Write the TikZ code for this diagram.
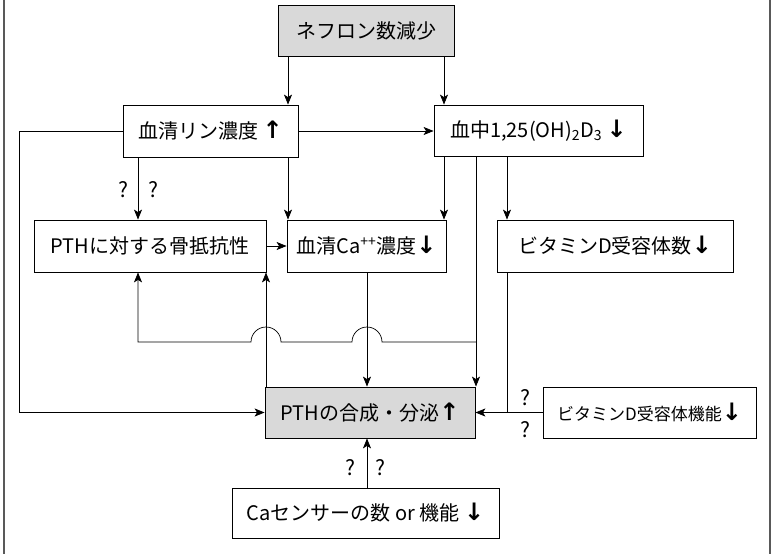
\documentclass[tikz,border=0pt]{standalone}
\usepackage{fontspec}
\setmainfont{Noto Sans CJK JP}
\newfontfamily\arwfont{DejaVu Sans}
\newcommand{\up}{{\arwfont\bfseries\fontsize{24}{24}\selectfont ↑}}
\newcommand{\dn}{{\arwfont\bfseries\fontsize{24}{24}\selectfont ↓}}
\usetikzlibrary{arrows.meta}
\begin{document}
\begin{tikzpicture}[x=1pt,y=-1pt,
  box/.style={draw, line width=0.8pt, inner sep=0pt, font=\fontsize{20}{23}\selectfont},
  shaded/.style={box, fill=gray!30},
  arr/.style={-{Stealth[length=10pt,width=8pt,inset=2.5pt]}, line width=0.7pt},
  ln/.style={line width=0.7pt},
  q/.style={font=\fontsize{21}{24}\selectfont, inner sep=0pt},
  frame/.style={draw=gray!70!black, line width=1.2pt}]
\useasboundingbox (0,0) rectangle (772,554);
\draw[frame] (4,0) -- (4,554);
\draw[frame] (770,0) -- (770,554);

% nodes
\node[shaded, minimum width=176pt, minimum height=51pt] (top) at (366,30.5) {ネフロン数減少};
\node[box, minimum width=175pt, minimum height=52pt] (rin) at (210.5,131) {血清リン濃度 \up};
\node[box, minimum width=209pt, minimum height=51pt] (chu) at (538.5,130.5) {血中1,25(OH)\textsubscript{2}D\textsubscript{3} \dn};
\node[box, minimum width=232pt, minimum height=52pt] (bone) at (150,246) {PTHに対する骨抵抗性};
\node[box, minimum width=159pt, minimum height=52pt] (ca) at (366.5,246) {血清Ca\textsuperscript{++}濃度\dn};
\node[box, minimum width=236pt, minimum height=52pt] (vdn) at (615,246) {ビタミンD受容体数\dn};
\node[shaded, minimum width=210pt, minimum height=51pt] (pth) at (370,412.5) {PTHの合成・分泌\up};
\node[box, minimum width=213pt, minimum height=51pt, font=\fontsize{17}{20}\selectfont] (vdf) at (649.5,412.5) {ビタミンD受容体機能\dn};
\node[box, minimum width=267pt, minimum height=50pt] (cas) at (365.5,513) {Caセンサーの数 or 機能 \dn};

% helper columns / rows
\coordinate (cA) at (288,0);
\coordinate (cB) at (444,0);
\coordinate (cC) at (138,0);
\coordinate (cD) at (266,0);
\coordinate (cE) at (367,0);
\coordinate (cF) at (476,0);
\coordinate (cG) at (507,0);
\coordinate (cL) at (19,0);
\coordinate (rM) at (0,342);

% connectors
\draw[arr] (top.south -| cA) -- (rin.north -| cA);
\draw[arr] (top.south -| cB) -- (chu.north -| cB);
\draw[arr] (rin.east) -- (rin.east -| chu.west);
\draw[arr] (rin.west) -| (cL |- pth.west) -- (pth.west);
\draw[arr] (rin.south -| cC) -- (bone.north -| cC);
\draw[arr] (rin.south -| cA) -- (ca.north -| cA);
\draw[arr] (chu.south -| cB) -- (ca.north -| cB);
\draw[arr] (chu.south -| cF) -- (pth.north -| cF);
\draw[arr] (chu.south -| cG) -- (vdn.north -| cG);
\draw[arr] (bone.east) -- (ca.west);
\draw[arr] (pth.north -| cD) -- (bone.south -| cD);
\draw[arr] (ca.south -| cE) -- (pth.north -| cE);
\draw[arr] (cas.north -| cE) -- (pth.south -| cE);
\draw[ln] (vdn.south -| cG) -- (cG |- vdf.west);
\draw[arr] (vdf.west) -- (pth.east);
\draw[arr] (rM -| cF) -- (382,342) arc[start angle=0, end angle=180, radius=15pt]
  -- (281,342) arc[start angle=0, end angle=180, radius=15pt]
  -- (rM -| cC) -- (bone.south -| cC);

% question marks
\node[q] (q1) at (123,190) {?};
\node[q] (q2) at (153,190) {?};
\node[q] (q3) at (525,398) {?};
\node[q] (q4) at (525,430) {?};
\node[q] (q5) at (350,468) {?};
\node[q] (q6) at (380,468) {?};
\end{tikzpicture}
\end{document}
